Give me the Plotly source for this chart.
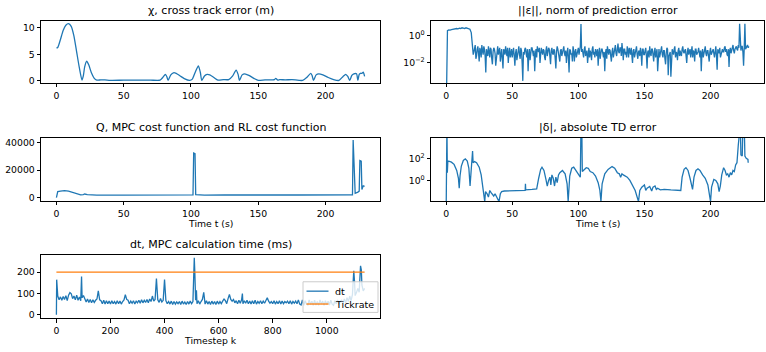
import plotly.graph_objects as go

# ---------------- data ----------------
# cross track error (m)
chi_t = [0, 1, 3, 5, 7, 9, 11, 13, 15, 17, 19, 20, 21, 22.5, 24, 26, 28, 30, 33, 36, 40, 50, 60, 70, 77,
         79, 81, 82, 83, 85, 87, 89, 92, 95, 99, 101, 103, 105.5, 107, 108, 110, 112, 114, 117, 120, 124,
         128, 131, 133.5, 135, 136, 138, 140, 143, 147, 150, 155, 162, 163, 164.5, 166, 170, 175, 183, 186,
         189, 190, 191, 193, 195, 198, 202, 206, 210, 213, 215, 216.5, 218, 219.5, 221, 223, 224, 225, 226,
         227, 228, 228.5, 229]
chi_m = [6.2, 6.3, 7.8, 9.5, 10.5, 10.8, 10.3, 8.5, 5.5, 2.5, 0.1, 0.9, 2.6, 3.7, 3.0, 1.5, 0.5, 0.1, 0.15,
         0.15, 0.05, 0.1, 0.1, 0.1, 0.1, 0.6, 1.2, 0.8, 0.05, 1.1, 1.5, 1.4, 0.9, 0.4, 0.05, 0.3, 1.5, 2.8,
         1.5, 0.05, 0.9, 1.2, 1.1, 0.6, 0.1, 0.2, 0.2, 0.9, 2.0, 1.2, 0.05, 1.1, 1.3, 1.0, 0.4, 0.05, 0.15,
         0.2, 0.45, 0.1, 0.2, 0.15, 0.2, 0.05, 0.6, 1.4, 1.0, 0.05, 1.1, 1.3, 1.1, 0.6, 0.2, 0.05, 0.8, 1.2,
         0.8, 0.05, 1.0, 1.3, 1.3, 0.05, 1.2, 1.4, 1.4, 1.6, 1.3, 0.8]

# norm of prediction error, log10 values
eps_t_start = [0, 0.5] + list(range(1, 20))
eps_log_start = [-6, 0.3, 0.35, 0.4, 0.38, 0.42, 0.45, 0.43, 0.47, 0.5, 0.48, 0.52, 0.5, 0.55, 0.53, 0.5,
                 0.55, 0.52, 0.5, 0.45, 0.2]
eps_log_whole = [  # t = 20, 21, ... 229
    -0.9, -1.2, -0.7, -1.5, -0.8, -1.9, -1.1, -0.7, -1.4, -1.0,
    -2.7, -1.2, -0.8, -1.6, -1.0, -2.1, -0.9, -1.3, -1.8, -0.8,
    -1.2, -1.9, -1.0, -2.4, -1.1, -0.8, -1.5, -2.0, -0.9, -1.2,
    -1.6, -0.9, -2.2, -1.0, -1.3, -0.8, -1.7, -1.1, -3.3, -1.4,
    -0.9, -1.6, -2.6, -1.0, -1.3, -0.9, -1.5, -2.6, -1.0, -0.8,
    -1.2, -2.0, -0.9, -1.4, -1.1, -1.8, -0.8, -1.3, -1.0, -2.1,
    -0.9, -1.4, -1.1, -2.4, -0.8, -1.3, -1.9, -1.0, -1.2, -0.8,
    -1.5, -2.0, -0.9, -2.7, -1.1, -1.3, -0.8, -1.9, -1.0, -1.4,
    -0.9, -1.2, 0.82, -1.0, -1.6, -0.8, -1.3, -2.0, -0.9, -1.1,
    -1.8, -0.8, -1.2, -1.0, -1.5, -2.2, -0.9, -1.3, -1.0, -1.6,
    -2.6, -1.0, -0.8, -1.4, -1.1, -1.9, -0.9, -1.2, -0.7, -1.5,
    -0.6, -1.3, -0.9, -0.55, -1.8, -1.0, -1.2, -0.8, -1.6, -1.1,
    -0.9, -2.0, -1.0, -1.3, -0.8, -1.7, -1.1, -0.9, -2.2, -1.0,
    -1.4, -0.9, -2.4, -1.1, -0.8, -1.5, -1.0, -1.9, -0.9, -1.3,
    -2.6, -1.0, -1.2, -0.8, -1.6, -1.1, -2.1, -0.9, -2.9, -1.2,
    -3.0, -1.0, -1.4, -0.8, -1.2, -1.8, -0.9, -1.1, -1.5, -0.8,
    -1.3, -1.0, -2.0, -0.9, -1.2, -1.6, -0.8, -1.1, -1.9, -1.0,
    -1.3, -0.9, -1.6, -2.6, -1.0, -1.2, -0.8, -1.5, -1.1, -1.9,
    -0.9, -1.2, -1.0, -1.6, -0.8, -2.5, -1.1, -0.9, -1.4, -1.0,
    -1.2, -0.8, -1.0, -1.5, -2.3, -0.9, -1.1, -0.7, -1.3, -0.9,
    -1.0, -0.7, 0.85, -1.1, -0.8, -2.2, 0.85, -0.9, -0.7, -0.8,
]
eps_log_half = [  # t = 20.5, 21.5, ... 228.5
    -1.4, -0.8, -1.7, -1.0, -1.3, -0.9, -1.6, -1.1, -0.8, -1.5,
    -1.0, -1.5, -1.1, -0.9, -1.7, -1.2, -1.0, -2.2, -1.1, -1.4,
    -0.9, -1.3, -1.7, -1.0, -1.4, -1.2, -0.9, -1.3, -1.6, -1.0,
    -1.1, -1.5, -1.3, -1.8, -1.0, -1.4, -0.9, -2.0, -1.2, -1.0,
    -1.3, -1.0, -1.4, -1.8, -0.9, -1.2, -1.1, -1.4, -1.6, -1.1,
    -0.9, -1.4, -1.2, -1.0, -1.6, -1.1, -1.5, -0.9, -1.7, -1.1,
    -1.3, -1.0, -1.7, -1.2, -1.0, -1.6, -1.1, -1.5, -0.9, -1.3,
    -1.1, -1.3, -1.6, -1.0, -1.4, -1.9, -1.1, -1.2, -1.6, -1.0,
    -1.4, -0.8, -1.2, -1.3, -1.0, -1.5, -1.1, -1.2, -1.6, -1.3,
    -1.0, -1.4, -1.6, -1.2, -1.0, -1.3, -1.7, -1.0, -1.4, -1.2,
    -1.3, -1.7, -1.1, -1.0, -1.5, -1.2, -1.6, -1.0, -1.3, -1.0,
    -1.2, -0.9, -1.5, -1.1, -1.0, -1.4, -1.6, -1.1, -0.9, -1.4,
    -1.3, -1.1, -1.6, -1.0, -1.4, -1.2, -1.5, -1.3, -1.0, -1.4,
    -1.1, -1.5, -1.2, -1.6, -1.3, -1.0, -1.4, -1.2, -1.6, -1.0,
    -1.3, -1.6, -1.0, -1.4, -1.1, -1.7, -1.3, -1.0, -1.5, -1.2,
    -1.4, -1.2, -1.0, -1.6, -1.3, -1.1, -1.5, -1.4, -1.0, -1.2,
    -1.1, -1.5, -1.2, -1.4, -1.0, -1.3, -1.6, -1.2, -1.0, -1.4,
    -1.2, -1.4, -1.1, -1.3, -1.6, -1.0, -1.3, -1.1, -1.5, -1.2,
    -1.4, -1.0, -1.3, -1.2, -1.5, -1.0, -1.3, -1.6, -1.1, -1.2,
    -0.9, -1.2, -1.4, -1.0, -1.1, -1.3, -0.8, -1.1, -1.0, -0.8,
    -1.1, -0.9, -1.0, -0.8, -1.2, -0.9, -1.0, -0.8, -0.9,
]

# Q cost
q_t = [0, 0.5, 1, 3, 6, 9, 12, 15, 18, 20, 21, 23, 26, 30, 50, 80, 101.5, 102, 103, 103.5, 110, 125, 130,
       140, 180, 200, 220, 220.5, 221.5, 222, 224, 225, 225.5, 226.5, 227, 228, 229]
q_val = [0, 4200, 4500, 4800, 5100, 4800, 3900, 2900, 2100, 2300, 2700, 2300, 2000, 1900, 1850, 1900, 2000,
         32500, 32000, 2200, 1900, 2100, 2150, 1950, 1950, 2000, 2100, 41900, 3500, 3200, 4000, 4800, 27000,
         26500, 6000, 8600, 8200]

# |TD error|, log10 values
td_t = [0, 0.2, 0.6, 0.9, 1.3, 2.5, 4, 6, 8, 9.3, 9.9, 10.5, 11.5, 13, 14.5, 16, 17.2, 18.1, 18.8, 19.5,
        20, 20.4, 21.5, 23, 25, 26.5, 27.8, 28.6, 29.2, 29.8, 31, 32, 33, 34, 35, 36, 37, 38.5, 40, 41, 42,
        44, 50, 55, 59.8, 60, 60.2, 65, 68.5, 70, 71.5, 72.5, 74, 75.5, 76.5, 77.5, 78.5, 79.2, 80, 81, 82,
        83, 84, 85, 86, 88, 90, 91.5, 92.3, 93.5, 95, 96.5, 98, 100, 101.5, 102, 102.6, 103, 104.5, 106,
        107.5, 109, 111, 113, 115, 116.3, 117.1, 118, 120, 122.5, 125.5, 127.5, 129.5, 131, 132, 133, 134,
        135.5, 137, 139, 141, 143, 145.5, 146.5, 148, 150, 151, 152, 154, 155.5, 156.5, 158, 159, 160, 162,
        165, 170, 175, 177.5, 178.5, 180, 181.4, 183, 184.5, 186.4, 187.5, 189, 190.5, 192, 194, 196, 198,
        199, 200, 200.8, 202.5, 204, 205.5, 206.5, 207.4, 208.5, 209.9, 211, 212, 213, 214, 215, 216, 217,
        218, 219, 220, 221, 221.5, 222.5, 223, 224, 224.5, 225.5, 226, 227, 228.3, 228.5]
td_log = [-3, 5, 5, 0.7, 1.75, 1.72, 1.65, 1.45, 0.9, 0.2, -0.7, 0.4, 1.3, 1.8, 1.95, 1.75, 1.1, -0.5, 0.9,
          1.7, 2.65, 1.6, 1.7, 1.6, 1.2, 0.5, -0.45, -1.3, -1.9, -1.0, -1.2, -1.5, -0.9, -1.1, -1.3, -1.4,
          -1.2, -1.5, -1.9, -1.2, -1.0, -0.95, -0.95, -0.93, -0.9, -0.3, -0.85, -0.8, -0.75, 0.2, 1.0, 1.2,
          0.9, 0.1, -0.5, 0.0, 0.3, -0.4, 0.5, 0.2, -0.5, 0.3, -0.2, 0.5, 0.7, 0.9, 0.6, -0.3, -1.9, 0.4,
          1.1, 1.2, 0.9, 0.5, 0.3, 5, 5, 0.8, 1.0, 1.15, 1.1, 0.8, 0.7, 0.4, -0.2, -0.9, -1.9, -0.3, 0.6,
          1.0, 1.25, 1.1, 0.7, 0.6, 0.3, 0.6, 0.5, 0.4, 0.3, 0.0, -0.4, -0.9, -1.9, -0.9, -0.6, -0.4, -0.9,
          -0.7, -0.55, -0.95, -0.6, -0.5, -0.8, -0.7, -0.85, -0.8, -0.85, -0.9, -0.9, 0.3, 1.0, 1.15, 0.9,
          0.2, -0.8, 0.3, 0.9, 1.05, 0.9, 0.5, 0.2, -0.4, -1.0, -1.9, -0.6, 0.1, 0.0, -0.3, -1.0, -0.5, 0.5,
          1.15, 0.9, 0.5, 0.6, 0.3, 0.7, 0.5, 0.9, 0.8, 1.4, 1.6, 3.2, 5, 5, 2.3, 2.2, 5, 5, 2.2, 2.0, 1.9,
          1.6]

# MPC calculation time (ms), baseline every 5 steps from k=5 to k=1140
dt_base = [
    88, 70, 84, 68, 86, 72, 90, 66, 92, 104, 98, 76, 88, 70, 92, 68, 84, 66, 80, 90,
    76, 60, 74, 58, 72, 56, 70, 58, 68, 74,
    104, 70, 66, 52, 68, 50, 66, 52, 64, 50, 66, 52, 62, 50, 66, 52, 64, 50, 62, 70,
    94, 72, 68, 52, 64, 54, 66, 50, 64, 56, 68, 54, 70, 56, 68, 58, 72, 56, 74, 62,
    88, 64, 72, 56, 70, 58, 76, 60, 68, 62, 66, 52, 62, 50, 64, 48, 62, 50, 60, 52,
    62, 48, 64, 50, 60, 48, 62, 50, 64, 52, 62, 50, 68, 52, 66, 50, 62, 72, 64, 50,
    66, 50, 62, 48, 64, 50, 62, 48, 64, 50, 62, 52, 64, 74, 66, 52, 76, 90, 72, 64,
    72, 56, 66, 52, 68, 54, 70, 52, 66, 54, 68, 52, 64, 50, 66, 52, 68, 50, 62, 54,
    66, 52, 64, 54, 66, 50, 64, 54, 62, 52, 66, 50, 62, 52, 66, 50, 64, 52, 62, 56,
    64, 52, 66, 50, 62, 54, 64, 52, 70, 50, 46, 70, 44, 66, 50, 46, 70, 48, 64, 44,
    68, 46, 62, 44, 70, 50, 64, 44, 66, 48, 64, 46, 68, 50, 44, 66, 52, 70, 48, 64,
    68, 52, 74, 56, 80, 62, 88, 66, 94, 112,
    90, 104, 124, 106, 134, 200, 112, 124,
]
dt_spike_k = [0, 1, 93, 155, 370, 400, 510, 512, 518, 545, 640, 688, 780, 1100, 1103, 1125, 1128, 1130]
dt_spike_v = [0, 165, 180, 112, 170, 165, 268, 200, 115, 105, 95, 100, 80, 207, 150, 230, 210, 140]
tickrate_ms = 200
legend_names = ["dt", "Tickrate"]

# ---------------- build ----------------
eps_t = list(eps_t_start)
eps_log = list(eps_log_start)
for i, v in enumerate(eps_log_whole):
    eps_t.append(20 + i)
    eps_log.append(v)
    if i < len(eps_log_half):
        eps_t.append(20.5 + i)
        eps_log.append(eps_log_half[i])
eps_val = [10 ** v for v in eps_log]
td_val = [10 ** v for v in td_log]

pts = {5 * (i + 1): v for i, v in enumerate(dt_base)}
for k, v in zip(dt_spike_k, dt_spike_v):
    pts[k] = v
dt_k = sorted(pts)
dt_ms = [pts[k] for k in dt_k]

BLUE = "#1f77b4"
ORANGE = "#ff7f0e"
FONT = "DejaVu Sans"
W, H = 766, 352
LW = 1.3

fig = go.Figure()
fig.add_trace(go.Scatter(x=chi_t, y=chi_m, mode="lines", line=dict(color=BLUE, width=LW, shape="spline", smoothing=0.6),
                         xaxis="x", yaxis="y", showlegend=False))
fig.add_trace(go.Scatter(x=eps_t, y=eps_val, mode="lines", line=dict(color=BLUE, width=LW),
                         xaxis="x2", yaxis="y2", showlegend=False))
fig.add_trace(go.Scatter(x=q_t, y=q_val, mode="lines", line=dict(color=BLUE, width=LW),
                         xaxis="x3", yaxis="y3", showlegend=False))
fig.add_trace(go.Scatter(x=td_t, y=td_val, mode="lines", line=dict(color=BLUE, width=LW),
                         xaxis="x4", yaxis="y4", showlegend=False))
fig.add_trace(go.Scatter(x=dt_k, y=dt_ms, mode="lines", line=dict(color=BLUE, width=LW),
                         xaxis="x5", yaxis="y5", name=legend_names[0], showlegend=False))
fig.add_trace(go.Scatter(x=[dt_k[0], dt_k[-1]], y=[tickrate_ms, tickrate_ms], mode="lines",
                         line=dict(color=ORANGE, width=LW), xaxis="x5", yaxis="y5", name=legend_names[1],
                         showlegend=False))


def px(x):
    return x / W


def py(y):
    return 1 - y / H


col1 = [px(41), px(380)]
col2 = [px(431), px(764)]
row1 = [py(83), py(20)]
row2 = [py(202.3), py(138.3)]
row3 = [py(321), py(256.7)]

axstyle = dict(showline=True, linecolor="black", linewidth=0.8, mirror=True, ticks="outside", ticklen=3.5,
               tickwidth=0.8, tickcolor="black", showgrid=False, zeroline=False,
               tickfont=dict(family=FONT, size=9.3, color="black"))

t_range = [-11.45, 240.45]
fig.update_layout(
    xaxis=dict(domain=col1, anchor="y", range=t_range, tickvals=[0, 50, 100, 150, 200], **axstyle),
    yaxis=dict(domain=row1, anchor="x", range=[-0.45, 11.35], tickvals=[0, 5, 10], **axstyle),
    xaxis2=dict(domain=col2, anchor="y2", range=t_range, tickvals=[0, 50, 100, 150, 200], **axstyle),
    yaxis2=dict(domain=row1, anchor="x2", type="log", range=[-3.46, 1.06], tickvals=[1, 0.01],
                ticktext=["10<sup>0</sup>", "10<sup>−2</sup>"], **axstyle),
    xaxis3=dict(domain=col1, anchor="y3", range=t_range, tickvals=[0, 50, 100, 150, 200], **axstyle),
    yaxis3=dict(domain=row2, anchor="x3", range=[-2400, 43600], tickvals=[0, 20000, 40000],
                ticktext=["0", "20000", "40000"], **axstyle),
    xaxis4=dict(domain=col2, anchor="y4", range=t_range, tickvals=[0, 50, 100, 150, 200], **axstyle),
    yaxis4=dict(domain=row2, anchor="x4", type="log", range=[-1.85, 3.85], tickvals=[1, 100],
                ticktext=["10<sup>0</sup>", "10<sup>2</sup>"], **axstyle),
    xaxis5=dict(domain=col1, anchor="y5", range=[-57, 1197], tickvals=[0, 200, 400, 600, 800, 1000], **axstyle),
    yaxis5=dict(domain=row3, anchor="x5", range=[-17, 282], tickvals=[0, 100, 200], **axstyle),
    width=W, height=H, margin=dict(l=0, r=0, t=0, b=0),
    paper_bgcolor="white", plot_bgcolor="white",
    font=dict(family=FONT, size=9, color="black"),
    showlegend=False,
)

titles = [
    ("χ, cross track error (m)", col1, row1),
    ("||ε||, norm of prediction error", col2, row1),
    ("Q, MPC cost function and RL cost function", col1, row2),
    ("|δ|, absolute TD error", col2, row2),
    ("dt, MPC calculation time (ms)", col1, row3),
]
for text, cx, ry in titles:
    fig.add_annotation(text=text, x=(cx[0] + cx[1]) / 2, y=ry[1], xref="paper", yref="paper",
                       xanchor="center", yanchor="bottom", yshift=2, showarrow=False,
                       font=dict(family=FONT, size=11, color="black"))

xlabels = [("Time t (s)", col1, 225), ("Time t (s)", col2, 225), ("Timestep k", col1, 343)]
for text, cx, yy in xlabels:
    fig.add_annotation(text=text, x=(cx[0] + cx[1]) / 2, y=py(yy), xref="paper", yref="paper",
                       xanchor="center", yanchor="middle", showarrow=False,
                       font=dict(family=FONT, size=9.3, color="black"))

# legend box drawn like matplotlib's (semi-transparent, light border)
fig.add_shape(type="rect", xref="paper", yref="paper", x0=px(303), x1=px(378), y0=py(315), y1=py(284),
              fillcolor="rgba(255,255,255,0.8)", line=dict(color="#cccccc", width=1), layer="above")
for name, color, yy in [(legend_names[0], BLUE, 293.5), (legend_names[1], ORANGE, 306.5)]:
    fig.add_shape(type="line", xref="paper", yref="paper", x0=px(306.5), x1=px(328.5), y0=py(yy), y1=py(yy),
                  line=dict(color=color, width=LW), layer="above")
    fig.add_annotation(text=name, x=px(333), y=py(yy), xref="paper", yref="paper", xanchor="left",
                       yanchor="middle", showarrow=False, font=dict(family=FONT, size=9.5, color="black"))

fig.write_html("out.html")
